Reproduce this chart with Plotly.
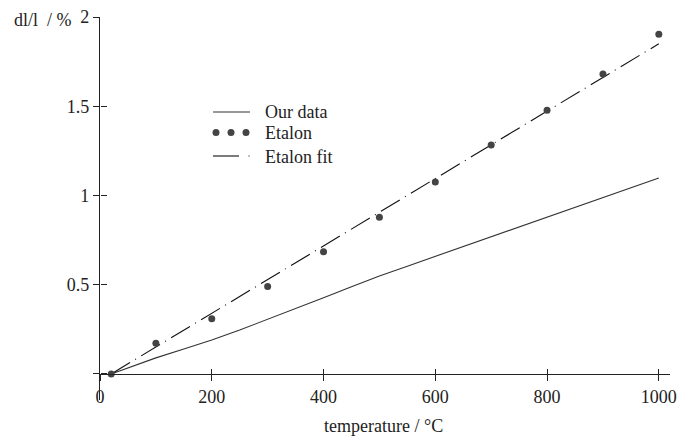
import plotly.graph_objects as go

# ---- data ----
our_x = [20, 50, 100, 150, 200, 250, 300, 350, 400, 450, 500, 550, 600, 650, 700, 750, 800, 850, 900, 950, 1000]
our_y = [0.0, 0.035, 0.09, 0.14, 0.19, 0.246, 0.305, 0.365, 0.427, 0.489, 0.549, 0.604, 0.659, 0.713, 0.769, 0.824, 0.879, 0.934, 0.992, 1.047, 1.098]

etalon_x = [20, 100, 200, 300, 400, 500, 600, 700, 800, 900, 1000]
etalon_y = [0.0, 0.172, 0.309, 0.49, 0.685, 0.878, 1.075, 1.283, 1.478, 1.68, 1.904]

fit_x = [20, 1000]
fit_y = [0.0, 1.85]

x_ticks = [0, 200, 400, 600, 800, 1000]
x_ticklabels = ["0", "200", "400", "600", "800", "1000"]
y_ticks = [0, 0.5, 1, 1.5, 2]
y_ticklabels = ["", "0.5", "1", "1.5", "2"]

legend_labels = ["Our data", "Etalon", "Etalon fit"]

# ---- figure ----
W, H = 678, 439
L, R, T, B = 100, 8, 17, 39
X_RANGE = [0, 1020]
Y_RANGE = [-0.146, 2.0]
xpos = (0 - Y_RANGE[0]) / (Y_RANGE[1] - Y_RANGE[0])

FONT = "Liberation Serif, Times New Roman, serif"
INK = "#222222"
FS = 18

fig = go.Figure()
fig.add_trace(go.Scatter(x=our_x, y=our_y, mode="lines",
                         line=dict(color="#333333", width=1.1), showlegend=False))
fig.add_trace(go.Scatter(x=fit_x, y=fit_y, mode="lines",
                         line=dict(color="#111111", width=1.1, dash="22px,6px,1px,6px"),
                         showlegend=False))
fig.add_trace(go.Scatter(x=etalon_x, y=etalon_y, mode="markers",
                         marker=dict(color="#444444", size=7), showlegend=False))
# invisible trace to make the overlay (inner-tick) axes render
fig.add_trace(go.Scatter(x=[0], y=[0], xaxis="x2", yaxis="y2", mode="markers",
                         marker=dict(opacity=0), hoverinfo="skip", showlegend=False))

common = dict(showgrid=False, zeroline=False, linecolor=INK, tickcolor=INK,
              tickwidth=1, linewidth=1.2, automargin=False,
              tickfont=dict(family=FONT, size=FS, color=INK))

fig.update_layout(
    width=W, height=H,
    margin=dict(l=L, r=R, t=T, b=B),
    paper_bgcolor="white", plot_bgcolor="white",
    showlegend=False,
    xaxis=dict(range=X_RANGE, tickvals=x_ticks, ticktext=x_ticklabels,
               ticks="outside", ticklen=6, showline=True,
               anchor="free", position=xpos, **common),
    yaxis=dict(range=Y_RANGE, tickvals=y_ticks, ticktext=y_ticklabels,
               ticks="outside", ticklen=6, showline=True, anchor="x", **common),
    xaxis2=dict(range=X_RANGE, overlaying="x", tickvals=x_ticks, ticks="inside",
                ticklen=5, showticklabels=False, showline=False,
                anchor="free", position=xpos, **common),
    yaxis2=dict(range=Y_RANGE, overlaying="y", tickvals=y_ticks, ticks="inside",
                ticklen=6, showticklabels=False, showline=False,
                anchor="free", position=0, **common),
)

def px(xp):
    return (xp - L) / (W - L - R)

def py(yp):
    return (H - B - yp) / (H - T - B)

# axis titles
fig.add_annotation(text="dl/l  / %", xref="paper", yref="paper",
                   x=px(12), y=py(20), xanchor="left", yanchor="middle",
                   showarrow=False, font=dict(family=FONT, size=FS, color=INK))
fig.add_annotation(text="temperature / °C", xref="paper", yref="paper",
                   x=px(383), y=py(426), xanchor="center", yanchor="middle",
                   showarrow=False, font=dict(family=FONT, size=FS, color=INK))

# manual legend
shapes = []
shapes.append(dict(type="line", xref="paper", yref="paper",
                   x0=px(213), x1=px(250), y0=py(112), y1=py(112),
                   line=dict(color="#333333", width=1.1)))
for cx in [216, 231, 246]:
    shapes.append(dict(type="circle", xref="paper", yref="paper",
                       xsizemode="pixel", ysizemode="pixel",
                       xanchor=px(cx), yanchor=py(132.5),
                       x0=-3.5, x1=3.5, y0=-3.5, y1=3.5,
                       fillcolor="#444444", line=dict(width=0)))
shapes.append(dict(type="line", xref="paper", yref="paper",
                   x0=px(213), x1=px(239), y0=py(156), y1=py(156),
                   line=dict(color="#111111", width=1.1)))
shapes.append(dict(type="line", xref="paper", yref="paper",
                   x0=px(248.5), x1=px(249.5), y0=py(156), y1=py(156),
                   line=dict(color="#111111", width=1.1)))
fig.update_layout(shapes=shapes)

for lbl, yy in zip(legend_labels, [112.5, 133, 156.5]):
    fig.add_annotation(text=lbl, xref="paper", yref="paper",
                       x=px(263), y=py(yy), xanchor="left", yanchor="middle",
                       showarrow=False, font=dict(family=FONT, size=FS, color=INK))

fig.write_html("out.html",
               config={"displayModeBar": False},
               post_script="document.body.style.margin='0';document.body.style.overflow='hidden';")
